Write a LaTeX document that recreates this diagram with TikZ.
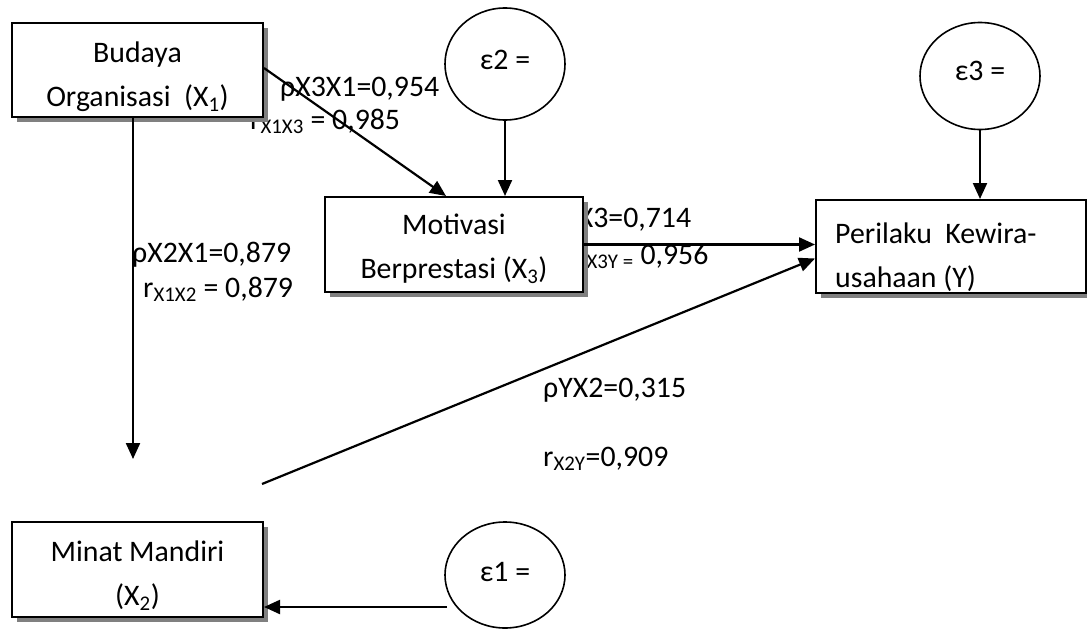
\documentclass[tikz,border=0pt]{standalone}
\usepackage{fontspec}
\setmainfont{Carlito}
\usetikzlibrary{arrows.meta,shapes.geometric,shadows}
\begin{document}
\begin{tikzpicture}[x=1pt,y=-1pt,
  every node/.style={font=\fontsize{29.8}{44}\selectfont},
  varbox/.style={draw, line width=2pt, fill=white, inner sep=0pt,
    drop shadow={shadow xshift=5pt,shadow yshift=-5pt,fill=black!50,opacity=1}},
  boxtext/.style={inner sep=0pt, align=center},
  errell/.style={draw, ellipse, line width=1.6pt, inner sep=0pt, minimum width=120pt, minimum height=110pt},
  lbl/.style={anchor=base west, inner sep=0pt},
  arr/.style={line width=2.2pt, -{Triangle[length=16pt,width=14pt]}}]
\useasboundingbox (0,0) rectangle (1087,629);
% labels
\node[lbl] (l1) at (280,96) {ρX3X1=0,954};
\node[lbl] (l2) at (250,129) {r\textsubscript{X1X3} = 0,985};
\node[lbl] (l3) at (132,262) {ρX2X1=0,879};
\node[lbl] (l4) at (143,297) {r\textsubscript{X1X2} = 0,879};
\node[lbl] (l5) at (548,227) {ρYX3=0,714};
\node[lbl] (l6) at (576,264) {r\textsubscript{X3Y =} 0,956};
\node[lbl] (l7) at (543,397) {ρYX2=0,315};
\node[lbl] (l8) at (543,466) {r\textsubscript{X2Y}=0,909};
% boxes
\node[varbox, minimum width=251pt, minimum height=94pt] (x1) at (137.5,70) {};
\node[boxtext] (x1t) at (137.5,77) {Budaya\\Organisasi\ \ (X\textsubscript{1})};
\node[varbox, minimum width=258pt, minimum height=95pt] (x3) at (454,244.5) {};
\node[boxtext] (x3t) at (454,249) {Motivasi\\Berprestasi (X\textsubscript{3})};
\node[varbox, minimum width=270pt, minimum height=93pt] (y) at (951,246.5) {};
\node[boxtext, align=left, anchor=west] (yt) at (835,257) {Perilaku\ \ Kewira-\\usahaan (Y)};
\node[varbox, minimum width=251pt, minimum height=95pt] (x2) at (137.5,569.5) {};
\node[boxtext] (x2t) at (137.5,576) {Minat Mandiri\\(X\textsubscript{2})};
% error terms
\node[errell, minimum height=112pt] (e2) at (505,64) {\raisebox{9pt}{ε2 =}};
\node[errell, minimum height=107pt] (e3) at (980,76) {\raisebox{11pt}{ε3 =}};
\node[errell, minimum height=106pt] (e1) at (505,575) {\raisebox{7pt}{ε1 =}};
% connectors
\coordinate (v1) at (133,459);
\coordinate (d) at (262,484);
\coordinate (e1s) at (447,607);
\draw[arr] (v1 |- x1.south) -- (v1);
\draw[arr] ([yshift=2pt]x1.east) -- ([xshift=-8pt]x3.north);
\draw[arr] (e2.south) -- (e2.south |- x3.north);
\draw[arr] (x3.east) -- (x3.east -| y.west);
\draw[arr] (e3.south) -- (e3.south |- y.north);
\draw[arr] (d) -- ([yshift=-12pt]y.west);
\draw[arr] (e1s) -- (e1s -| x2.east);
\end{tikzpicture}
\end{document}
